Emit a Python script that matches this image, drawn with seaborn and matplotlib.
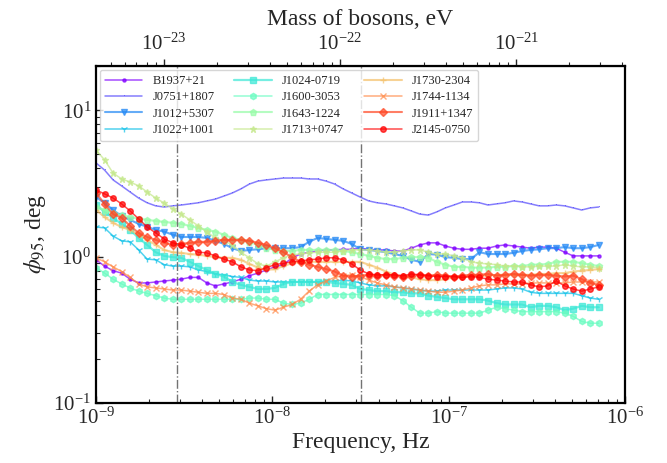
import numpy as np
import pandas as pd
import matplotlib
matplotlib.use("Agg")
import matplotlib.pyplot as plt
import matplotlib.ticker as mticker
import seaborn as sns

# frequency grid (Hz), log-spaced from 1e-9 to ~7e-7
freq = np.geomspace(1e-9, 7.1e-7, 60)

pulsars = ["B1937+21", "J0751+1807", "J1012+5307", "J1022+1001", "J1024-0719",
           "J1600-3053", "J1643-1224", "J1713+0747", "J1730-2304", "J1744-1134",
           "J1911+1347", "J2145-0750"]

B1937 = [0.95, 0.86, 0.80, 0.77, 0.70, 0.66, 0.66, 0.67, 0.68, 0.69, 0.70, 0.72, 0.72, 0.66, 0.63,
         0.65, 0.67, 0.70, 0.74, 0.77, 0.81, 0.85, 0.88, 0.98, 1.04, 1.07, 1.09, 1.11, 1.11, 1.12,
         1.12, 1.14, 1.12, 1.11, 1.11, 1.09, 1.09, 1.14, 1.20, 1.24, 1.24, 1.18, 1.14, 1.12, 1.12,
         1.14, 1.14, 1.18, 1.20, 1.18, 1.16, 1.14, 1.16, 1.16, 1.14, 1.07, 1.01, 1.01, 1.01, 1.01]
J0751 = [4.36, 3.90, 3.34, 3.04, 2.76, 2.51, 2.33, 2.22, 2.18, 2.22, 2.25, 2.29, 2.33, 2.40, 2.47,
         2.59, 2.72, 2.90, 3.13, 3.28, 3.34, 3.39, 3.44, 3.44, 3.44, 3.39, 3.39, 3.28, 3.13, 2.90,
         2.72, 2.55, 2.40, 2.33, 2.29, 2.22, 2.15, 2.05, 1.95, 1.92, 2.02, 2.15, 2.25, 2.36, 2.36,
         2.33, 2.25, 2.29, 2.33, 2.40, 2.36, 2.29, 2.22, 2.22, 2.25, 2.22, 2.15, 2.08, 2.15, 2.18]
J1012 = [2.55, 2.32, 2.08, 1.89, 1.78, 1.67, 1.60, 1.52, 1.48, 1.41, 1.36, 1.36, 1.36, 1.34, 1.28,
         1.22, 1.14, 1.09, 1.11, 1.12, 1.14, 1.14, 1.14, 1.14, 1.16, 1.26, 1.34, 1.32, 1.30, 1.28,
         1.22, 1.12, 1.11, 1.09, 1.07, 1.04, 1.01, 0.95, 0.92, 1.04, 1.03, 0.99, 0.98, 0.96, 0.96,
         1.07, 1.04, 1.04, 1.04, 1.06, 1.09, 1.11, 1.12, 1.14, 1.14, 1.16, 1.14, 1.14, 1.16, 1.20]
J1022 = [1.59, 1.57, 1.38, 1.28, 1.26, 1.11, 0.96, 0.95, 0.88, 0.86, 0.86, 0.85, 0.81, 0.79, 0.76,
         0.75, 0.73, 0.72, 0.69, 0.68, 0.68, 0.67, 0.67, 0.67, 0.67, 0.67, 0.67, 0.68, 0.68, 0.69,
         0.68, 0.66, 0.64, 0.63, 0.63, 0.62, 0.61, 0.60, 0.59, 0.58, 0.58, 0.59, 0.59, 0.59, 0.59,
         0.59, 0.59, 0.60, 0.61, 0.61, 0.60, 0.57, 0.56, 0.56, 0.56, 0.56, 0.56, 0.54, 0.52, 0.51]
J1024 = [2.25, 2.02, 1.84, 1.67, 1.52, 1.34, 1.20, 1.07, 1.01, 0.99, 0.98, 0.92, 0.86, 0.81, 0.76,
         0.73, 0.67, 0.64, 0.62, 0.60, 0.60, 0.61, 0.65, 0.67, 0.67, 0.67, 0.67, 0.67, 0.66, 0.65,
         0.64, 0.60, 0.59, 0.58, 0.58, 0.57, 0.57, 0.56, 0.56, 0.54, 0.53, 0.52, 0.51, 0.51, 0.51,
         0.51, 0.50, 0.48, 0.47, 0.47, 0.47, 0.45, 0.46, 0.46, 0.45, 0.43, 0.44, 0.46, 0.45, 0.45]
J1600 = [0.84, 0.77, 0.70, 0.65, 0.61, 0.58, 0.56, 0.54, 0.52, 0.51, 0.51, 0.51, 0.51, 0.51, 0.51,
         0.51, 0.51, 0.51, 0.52, 0.52, 0.51, 0.51, 0.48, 0.47, 0.48, 0.51, 0.55, 0.55, 0.55, 0.55,
         0.55, 0.55, 0.55, 0.55, 0.55, 0.54, 0.50, 0.45, 0.41, 0.41, 0.42, 0.41, 0.41, 0.41, 0.41,
         0.41, 0.43, 0.45, 0.44, 0.43, 0.42, 0.42, 0.42, 0.42, 0.42, 0.41, 0.39, 0.36, 0.35, 0.35]
J1643 = [2.18, 2.08, 1.98, 1.92, 1.86, 1.81, 1.78, 1.75, 1.72, 1.70, 1.67, 1.62, 1.57, 1.52, 1.48,
         1.41, 1.34, 1.30, 1.26, 1.20, 1.14, 1.11, 1.09, 1.09, 1.11, 1.11, 1.11, 1.11, 1.11, 1.09,
         1.07, 1.04, 1.01, 0.98, 0.96, 0.96, 0.98, 0.99, 0.99, 0.98, 0.92, 0.88, 0.85, 0.85, 0.84,
         0.84, 0.84, 0.85, 0.85, 0.86, 0.86, 0.88, 0.88, 0.89, 0.92, 0.92, 0.92, 0.90, 0.88, 0.86]
J1713 = [5.35, 4.57, 3.72, 3.39, 3.23, 3.04, 2.76, 2.51, 2.32, 2.12, 1.95, 1.78, 1.62, 1.47, 1.34,
         1.28, 1.20, 1.07, 0.98, 0.89, 0.86, 0.92, 0.98, 1.03, 1.04, 1.06, 1.07, 1.07, 1.07, 1.09,
         1.11, 1.11, 1.11, 1.09, 1.07, 1.07, 1.09, 1.11, 1.11, 1.07, 1.04, 1.04, 1.01, 0.98, 0.92,
         0.90, 0.89, 0.88, 0.86, 0.86, 0.85, 0.85, 0.86, 0.86, 0.86, 0.88, 0.86, 0.85, 0.85, 0.84]
J1730 = [2.08, 1.86, 1.70, 1.59, 1.52, 1.41, 1.30, 1.20, 1.11, 1.07, 1.06, 1.04, 1.03, 1.01, 0.99,
         0.98, 0.98, 0.95, 0.89, 0.84, 0.81, 0.82, 0.86, 0.90, 0.92, 0.92, 0.92, 0.92, 0.92, 0.92,
         0.92, 0.92, 0.88, 0.84, 0.79, 0.75, 0.73, 0.72, 0.70, 0.69, 0.69, 0.70, 0.72, 0.72, 0.73,
         0.74, 0.74, 0.75, 0.75, 0.75, 0.75, 0.75, 0.76, 0.76, 0.77, 0.77, 0.79, 0.80, 0.81, 0.82]
J1744 = [0.98, 0.92, 0.85, 0.79, 0.72, 0.65, 0.62, 0.61, 0.60, 0.59, 0.59, 0.58, 0.57, 0.56, 0.56,
         0.55, 0.52, 0.51, 0.48, 0.46, 0.44, 0.43, 0.45, 0.47, 0.51, 0.58, 0.64, 0.68, 0.72, 0.74,
         0.75, 0.73, 0.69, 0.66, 0.64, 0.62, 0.61, 0.60, 0.59, 0.58, 0.57, 0.57, 0.58, 0.59, 0.61,
         0.63, 0.64, 0.64, 0.65, 0.65, 0.65, 0.66, 0.66, 0.66, 0.66, 0.66, 0.67, 0.67, 0.67, 0.67]
J1911 = [2.72, 2.29, 1.95, 1.84, 1.62, 1.45, 1.36, 1.30, 1.24, 1.20, 1.22, 1.24, 1.26, 1.26, 1.28,
         1.30, 1.30, 1.30, 1.28, 1.24, 1.20, 1.14, 1.07, 0.99, 0.92, 0.88, 0.85, 0.82, 0.79, 0.74,
         0.73, 0.74, 0.75, 0.74, 0.75, 0.74, 0.73, 0.74, 0.75, 0.74, 0.75, 0.74, 0.73, 0.74, 0.75,
         0.75, 0.76, 0.74, 0.75, 0.76, 0.75, 0.74, 0.75, 0.75, 0.74, 0.73, 0.74, 0.70, 0.66, 0.64]
J2145 = [2.85, 2.68, 2.51, 2.29, 2.05, 1.81, 1.59, 1.45, 1.32, 1.24, 1.20, 1.14, 1.07, 1.06, 1.01,
         0.96, 0.92, 0.85, 0.81, 0.80, 0.84, 0.88, 0.90, 0.92, 0.93, 0.95, 0.96, 0.98, 0.98, 0.95,
         0.89, 0.81, 0.76, 0.75, 0.75, 0.75, 0.74, 0.76, 0.75, 0.74, 0.73, 0.73, 0.73, 0.72, 0.73,
         0.72, 0.70, 0.69, 0.68, 0.67, 0.67, 0.64, 0.62, 0.63, 0.68, 0.63, 0.60, 0.58, 0.60, 0.62]

series = [B1937, J0751, J1012, J1022, J1024, J1600, J1643, J1713, J1730, J1744, J1911, J2145]
markers = [".", ",", "v", "1", "s", "h", "p", "*", "+", "x", "D", "o"]
msizes = [4.5, 2, 5, 5, 4.5, 4.5, 4.5, 5, 5, 4.5, 4.5, 4]
lwidths = [1.1, 1.1, 1.5, 1.1, 1.6, 1.1, 1.5, 1.1, 1.5, 1.1, 1.5, 1.1]

xticks = [1e-9, 1e-8, 1e-7, 1e-6]
yticks = [0.1, 1, 10]
mass_ticks = [1e-23, 1e-22, 1e-21]
vlines = [2.88e-9, 3.17e-8]   # 1/(11 yr), 1/yr
h_eV = 4.135667e-15

sns.set_style("ticks")
plt.rcParams["font.family"] = ["Liberation Serif", "DejaVu Serif"]
plt.rcParams["mathtext.fontset"] = "stix"

fig = plt.figure(figsize=(6.67, 4.63), dpi=100)
ax = fig.add_axes([0.144, 0.130, 0.793, 0.727])

colors = plt.cm.rainbow(np.linspace(0, 1, len(pulsars)))
for name, vals, mk, ms, lw, c in zip(pulsars, series, markers, msizes, lwidths, colors):
    df = pd.DataFrame({"f": freq, "phi": vals})
    sns.lineplot(data=df, x="f", y="phi", ax=ax, color=c, alpha=0.7, marker=mk,
                 markersize=ms, linewidth=lw, markeredgewidth=1.0, markeredgecolor=c,
                 label=name, sort=False)

for v in vlines:
    ax.axvline(v, color="0.45", ls="-.", lw=1.0)

ax.set_xscale("log")
ax.set_yscale("log")
ax.set_xlim(1e-9, 1e-6)
ax.set_ylim(0.1, 20)
ax.set_xticks(xticks)
ax.set_yticks(yticks)
ax.xaxis.set_major_formatter(mticker.LogFormatterSciNotation())
ax.yaxis.set_major_formatter(mticker.LogFormatterSciNotation())
ax.xaxis.set_minor_locator(mticker.LogLocator(base=10, subs=np.arange(2, 10), numticks=20))
ax.yaxis.set_minor_locator(mticker.LogLocator(base=10, subs=np.arange(2, 10), numticks=20))
ax.xaxis.set_minor_formatter(mticker.NullFormatter())
ax.yaxis.set_minor_formatter(mticker.NullFormatter())
ax.set_xlabel("Frequency, Hz", fontsize=17, labelpad=2)
ax.set_ylabel(r"$\phi_{95}$, deg", fontsize=17, labelpad=4)
ax.tick_params(axis="both", which="both", direction="in", top=False, right=False, labelsize=15)
ax.tick_params(which="major", length=5, width=1.0)
ax.tick_params(which="minor", length=3, width=0.8)
for sp in ax.spines.values():
    sp.set_linewidth(1.6)
    sp.set_color("black")

sec = ax.secondary_xaxis("top", functions=(lambda f: f * h_eV, lambda m: m / h_eV))
sec.set_xticks(mass_ticks)
sec.xaxis.set_major_formatter(mticker.LogFormatterSciNotation())
sec.xaxis.set_minor_locator(mticker.LogLocator(base=10, subs=np.arange(2, 10), numticks=20))
sec.xaxis.set_minor_formatter(mticker.NullFormatter())
sec.set_xlabel("Mass of bosons, eV", fontsize=17, labelpad=6)
sec.tick_params(which="both", direction="out", labelsize=15)
sec.tick_params(which="major", length=5, width=1.0)
sec.tick_params(which="minor", length=3, width=0.8)

leg = ax.legend(loc="upper left", ncol=3, fontsize=9, frameon=True, framealpha=0.8,
                edgecolor="0.8", handlelength=3.0, columnspacing=1.6, borderaxespad=0.3,
                labelspacing=0.35)

fig.savefig("out.png", dpi=100)
